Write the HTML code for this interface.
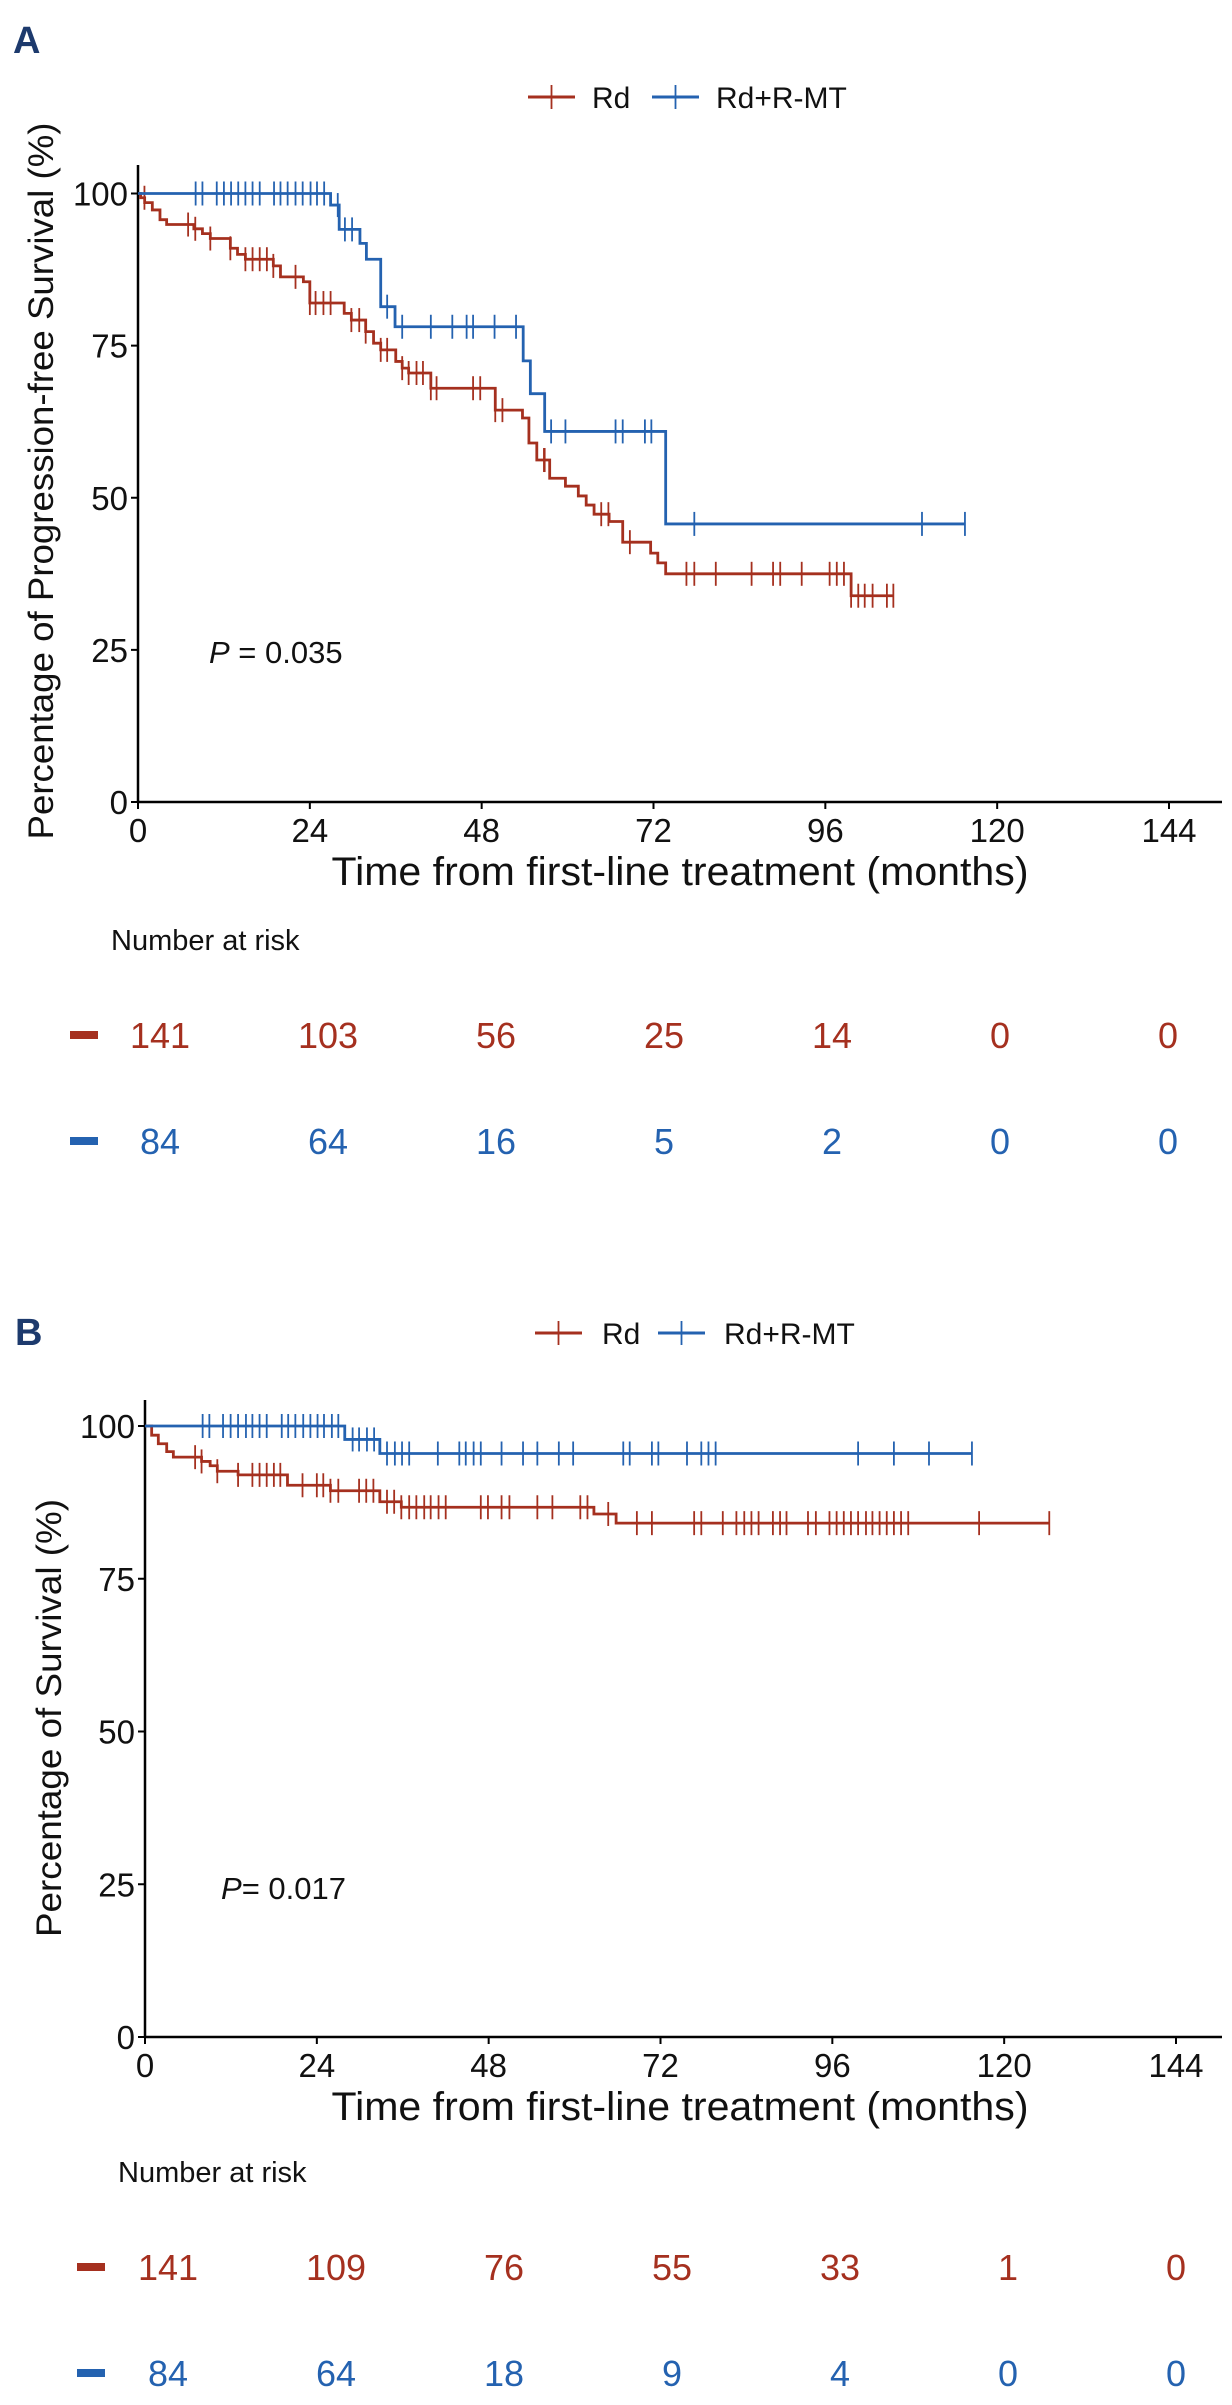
<!DOCTYPE html>
<html><head><meta charset="utf-8"><style>
html,body{margin:0;padding:0;background:#fff}
svg{display:block}
text{font-family:"Liberation Sans",Arial,sans-serif}
</style></head><body>
<svg id="fig" width="1232" height="2405" viewBox="0 0 1232 2405" xmlns="http://www.w3.org/2000/svg"></svg>
<script>
// ---------- Panel A data (PFS) ----------
const xTicks = [0,24,48,72,96,120,144];
const yTicks = [0,25,50,75,100];
const aRdTimes = [0,0.37,0.93,2.0,3.07,4.0,7.8,9.0,10.1,12.9,13.9,15.0,18.9,19.9,23.1,24.0,28.8,29.8,31.8,32.9,33.9,36.0,36.9,37.8,40.9,49.9,53.7,54.6,55.7,57.5,59.7,61.5,62.6,63.7,65.8,67.7,71.6,72.6,73.7,99.6];
const aRdSurv  = [100,99.3,98.5,97.3,95.7,94.9,94.2,93.4,92.6,91.0,90.0,89.2,88.1,86.3,85.5,82.0,80.3,79.2,77.3,75.4,74.3,72.4,71.3,70.5,68.0,64.4,63.1,59.0,56.2,53.2,51.9,50.3,48.8,47.3,46.1,42.7,40.9,39.3,37.5,33.9];
const aRdCens  = [0.9,7.0,8.0,10.1,12.9,15.0,16.0,17.0,18.0,18.9,22.0,24.0,24.8,25.9,26.9,29.8,30.9,31.8,33.9,34.8,36.9,37.8,38.9,39.8,40.9,41.7,46.8,47.8,49.9,50.9,56.7,56.8,64.7,65.7,68.7,76.6,77.7,80.7,85.7,88.7,89.7,92.7,96.6,97.6,98.6,99.6,100.6,101.5,102.6,104.6,105.5];
const aRdEnd = 105.5;
const aMtTimes = [0,26.9,28.1,31.0,31.9,33.9,35.9,53.8,54.8,56.8,73.7];
const aMtSurv  = [100,98.1,94.1,91.8,89.2,81.4,78.1,72.5,67.1,60.9,45.7];
const aMtCens  = [8.05,9.0,11.0,12.0,13.0,14.0,15.0,16.0,17.0,19.0,19.9,20.9,22.0,23.0,24.1,25.0,26.0,27.9,28.9,29.9,34.8,36.9,40.9,43.9,45.9,46.8,49.8,52.8,57.7,59.7,66.7,67.7,70.8,71.7,77.7,109.5,115.5];
const aMtEnd = 115.5;
const aRiskRd = ["141","103","56","25","14","0","0"];
const aRiskMt = ["84","64","16","5","2","0","0"];
// ---------- Panel B data (OS) ----------
const bRdTimes = [0,0.93,1.86,3.03,3.96,7.9,9.1,10.1,13.0,19.9,25.9,32.8,35.8,62.7,65.8];
const bRdSurv  = [100,98.5,97.1,95.8,94.9,94.2,93.5,92.6,92.0,90.3,89.4,87.6,86.7,85.6,84.1];
const bRdCens  = [7.0,7.9,10.1,13.0,15.0,16.0,17.0,18.0,18.9,22.0,24.0,24.9,25.9,27.0,29.9,30.9,31.9,33.8,34.8,35.8,36.9,37.9,39.0,39.9,41.0,42.0,46.9,47.9,49.8,50.9,54.8,56.9,60.8,61.8,64.7,68.7,70.8,76.7,77.7,80.7,82.6,83.7,84.7,85.7,87.7,88.7,89.6,92.6,93.7,95.6,96.6,97.6,98.6,99.6,100.7,101.6,102.6,103.6,104.6,105.6,106.6,116.5,126.3];
const bRdEnd = 126.3;
const bMtTimes = [0,27.9,32.8];
const bMtSurv  = [100,97.8,95.5];
const bMtCens  = [8.05,8.99,10.9,11.96,13.0,14.1,15.0,16.0,17.0,19.1,20.0,21.0,22.1,23.1,24.1,25.0,26.1,27.0,29.0,29.9,31.0,32.0,33.8,34.9,35.9,36.9,40.9,43.9,44.8,45.9,46.9,49.8,52.8,54.8,57.8,59.8,66.8,67.7,70.8,71.7,75.7,77.7,78.7,79.7,99.6,104.6,109.5,115.5];
const bMtEnd = 115.5;
const bRiskRd = ["141","109","76","55","33","1","0"];
const bRiskMt = ["84","64","18","9","4","0","0"];

const RED = "#a5301f", BLUE = "#2462b0", NAVY = "#1d3a6d";
const NS = "http://www.w3.org/2000/svg";
const svg = document.getElementById('fig');
function mk(tag, attrs, parent, txt){
  const e = document.createElementNS(NS, tag);
  for (const k in attrs) e.setAttribute(k, attrs[k]);
  if (txt !== undefined) e.textContent = txt;
  (parent || svg).appendChild(e);
  return e;
}
function survAt(times, surv, t){
  let v = surv[0];
  for (let i = 0; i < times.length; i++){ if (times[i] <= t) v = surv[Math.min(i, surv.length-1)]; }
  return v;
}
function panel(cfg){
  const g = mk('g', {});
  
  
  const sx = t => cfg.x0 + t * (cfg.x144 - cfg.x0) / 144;
  const sy = p => cfg.y0 - p * (cfg.y0 - cfg.y100) / 100;
  const lab = mk('text', {x: cfg.labX, y: cfg.labY, 'font-size': 38, 'font-weight': 'bold', fill: NAVY}, g, cfg.label);
  
  
  const lg = mk('g', {}, g);
  
  
  const items = [[RED, 'Rd', cfg.legX[0], cfg.legX[1]], [BLUE, 'Rd+R-MT', cfg.legX[2], cfg.legX[3]]];
  items.forEach(([c, t, lx, tx]) => {
    const e = mk('g', {}, lg);
    
    
    mk('line', {x1: lx, x2: lx + 47, y1: cfg.legY, y2: cfg.legY, stroke: c, 'stroke-width': 3}, e);
    mk('line', {x1: lx + 23.5, x2: lx + 23.5, y1: cfg.legY - 12, y2: cfg.legY + 12, stroke: c, 'stroke-width': 1.8}, e);
    mk('text', {x: tx, y: cfg.legY + 11, 'font-size': 30, fill: '#111'}, e, t);
  });
  const ax = mk('g', {}, g);
  
  
  mk('line', {x1: cfg.x0, x2: cfg.x0, y1: cfg.yTop, y2: cfg.y0 + 1, stroke: '#000', 'stroke-width': 2.5}, ax);
  mk('line', {x1: cfg.x0 - 1, x2: 1222, y1: cfg.y0, y2: cfg.y0, stroke: '#000', 'stroke-width': 2.5}, ax);
  xTicks.forEach(t => {
    mk('line', {x1: sx(t), x2: sx(t), y1: cfg.y0, y2: cfg.y0 + 7, stroke: '#000', 'stroke-width': 2}, ax);
    const tl = mk('text', {x: sx(t), y: cfg.y0 + 40, 'font-size': 33, 'text-anchor': 'middle', fill: '#111'}, ax, String(t));
    
    
  });
  yTicks.forEach(p => {
    mk('line', {x1: cfg.x0 - 7, x2: cfg.x0, y1: sy(p), y2: sy(p), stroke: '#000', 'stroke-width': 2}, ax);
    const tl = mk('text', {x: cfg.x0 - 10, y: sy(p) + 12, 'font-size': 33, 'text-anchor': 'end', fill: '#111'}, ax, String(p));
    
    
  });
  const xt = mk('text', {x: 680, y: cfg.y0 + 83, 'font-size': 40, 'text-anchor': 'middle', textLength: 697, lengthAdjust: 'spacingAndGlyphs', fill: '#111'}, ax, 'Time from first-line treatment (months)');
  
  
  const yt = mk('text', {x: 0, y: 0, 'font-size': 35, 'text-anchor': 'middle', textLength: cfg.yTitleLen, lengthAdjust: 'spacingAndGlyphs', fill: '#111', transform: `translate(${cfg.yTitleX},${cfg.yTitleY}) rotate(-90)`}, ax, cfg.yTitle);
  
  
  const pv = mk('text', {x: cfg.pX, y: cfg.pY, 'font-size': 31, fill: '#111'}, g);
  
  
  mk('tspan', {'font-style': 'italic'}, pv, 'P');
  mk('tspan', {}, pv, cfg.pText);
  cfg.series.forEach(s => {
    let d = `M${sx(0)},${sy(s.surv[0])}`;
    for (let i = 1; i < s.surv.length; i++){
      d += `H${sx(s.times[i])}V${sy(s.surv[i])}`;
    }
    d += `H${sx(s.end)}`;
    const sg = mk('g', {}, g);
    
    
    const p = mk('path', {d: d, fill: 'none', stroke: s.color, 'stroke-width': 2.8}, sg);
    
    
    s.cens.forEach(t => {
      const v = survAt(s.times, s.surv, t);
      const c = mk('line', {x1: sx(t), x2: sx(t), y1: sy(v) - 12, y2: sy(v) + 12, stroke: s.color, 'stroke-width': 1.8}, sg);
      
      
    });
  });
  const rt = mk('g', {}, g);
  
  
  mk('text', {x: cfg.nrX, y: cfg.nrY, 'font-size': 29, fill: '#111'}, rt, 'Number at risk');
  [[cfg.riskRd, RED, cfg.rowY[0]], [cfg.riskMt, BLUE, cfg.rowY[1]]].forEach(([vals, c, ry]) => {
    const row = mk('g', {}, rt);
    
    
    mk('rect', {x: cfg.dashX, y: ry - 17, width: 28, height: 8, fill: c}, row);
    vals.forEach((v, i) => {
      mk('text', {x: cfg.col0 + i * 168, y: ry, 'font-size': 36, 'text-anchor': 'middle', fill: c}, row, v);
    });
  });
}
panel({name: 'panel-a-pfs', label: 'A', labX: 13, labY: 53, legY: 97, legX: [528, 592, 652, 716],
  x0: 138, x144: 1169, y0: 802, y100: 193.5, yTop: 165,
  yTitle: 'Percentage of Progression-free Survival (%)', yTitleX: 53, yTitleY: 481, yTitleLen: 717,
  pX: 209, pY: 663, pText: ' = 0.035',
  series: [
    {name: 'rd-curve', color: RED, times: aRdTimes, surv: aRdSurv, cens: aRdCens, end: aRdEnd},
    {name: 'rd-rmt-curve', color: BLUE, times: aMtTimes, surv: aMtSurv, cens: aMtCens, end: aMtEnd}],
  nrX: 111, nrY: 950, rowY: [1048, 1154], dashX: 70, col0: 160, riskRd: aRiskRd, riskMt: aRiskMt});
panel({name: 'panel-b-os', label: 'B', labX: 15, labY: 1345, legY: 1333, legX: [535, 602, 658, 724],
  x0: 145, x144: 1176, y0: 2037, y100: 1426, yTop: 1400,
  yTitle: 'Percentage of Survival (%)', yTitleX: 61, yTitleY: 1718, yTitleLen: 438,
  pX: 221, pY: 1899, pText: '= 0.017',
  series: [
    {name: 'rd-curve', color: RED, times: bRdTimes, surv: bRdSurv, cens: bRdCens, end: bRdEnd},
    {name: 'rd-rmt-curve', color: BLUE, times: bMtTimes, surv: bMtSurv, cens: bMtCens, end: bMtEnd}],
  nrX: 118, nrY: 2182, rowY: [2280, 2386], dashX: 77, col0: 168, riskRd: bRiskRd, riskMt: bRiskMt});
</script>
</body></html>
